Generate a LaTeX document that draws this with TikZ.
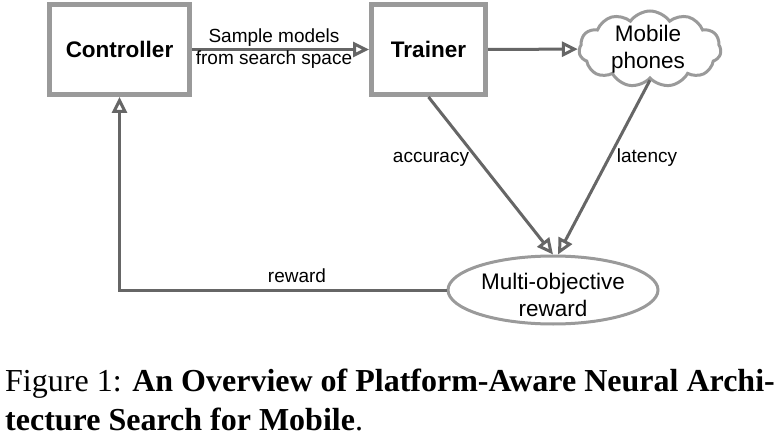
\documentclass[tikz,border=0pt]{standalone}
\usepackage{fontspec}
\setmainfont{Liberation Serif}
\setsansfont{Liberation Sans}
\usepackage{xcolor}
\usetikzlibrary{arrows.meta,shapes.symbols,shapes.geometric}
\definecolor{boxgray}{HTML}{9A9A9A}
\definecolor{linegray}{HTML}{666666}

\tikzset{
	stagebox/.style={draw=boxgray,line width=5pt,minimum width=140pt,minimum height=90pt,
		font=\sffamily\bfseries\fontsize{22.5}{26}\selectfont},
	bigtext/.style={font=\sffamily\fontsize{22.5}{27}\selectfont,align=center,inner sep=0pt},
	smalltext/.style={font=\sffamily\fontsize{19}{22}\selectfont,align=center,inner sep=0pt},
	conn/.style={draw=linegray,line width=3pt,-{Triangle[open,length=16pt,width=15pt]}}
}

\begin{document}
\begin{tikzpicture}[x=1pt,y=-1pt]
	\useasboundingbox (0,0) rectangle (779,441);
	\node[stagebox] (ctrl) at (119.5,49.5) {Controller};
	\node[stagebox,minimum width=114pt] (train) at (428.5,49.5) {Trainer};
	\node[cloud,draw=boxgray,line width=3pt,cloud puffs=11,cloud puff arc=110,aspect=1.9,
		minimum width=142pt,minimum height=76pt,inner sep=0pt] (phone) at (650,49) {};
	\node[bigtext] (phonetext) at (648,49) {Mobile\\phones};
	\node[ellipse,draw=boxgray,line width=3pt,minimum width=210pt,minimum height=68pt] (moo) at (553,290) {};
	\node[bigtext] (mootext) at (553,295) {Multi-objective\\reward};
	\draw[conn] (ctrl) -- (train);
	\draw[conn] (train) -- (phone);
	\draw[conn] (train.south) -- (moo.north);
	\draw[conn] (phone.south) -- ([xshift=5pt]moo.north);
	\draw[conn] (moo.west) -| (ctrl.south);
	\node[smalltext] (samplelbl) at (274,49) {Sample models\\from search space};
	\node[smalltext,anchor=base] (acclbl) at (431,163) {accuracy};
	\node[smalltext,anchor=base] (latlbl) at (647,163) {latency};
	\node[smalltext,anchor=base] (rewlbl) at (297,282) {reward};
	\node[anchor=base west,inner sep=0pt,font=\fontsize{32}{39}\selectfont] (cap1) at (5,391)
		{Figure 1: \textbf{An Overview of Platform-Aware Neural Archi-}};
	\node[anchor=base west,inner sep=0pt,font=\fontsize{32}{39}\selectfont] (cap2) at (5,430)
		{\textbf{tecture Search for Mobile}.};
\end{tikzpicture}
\end{document}
